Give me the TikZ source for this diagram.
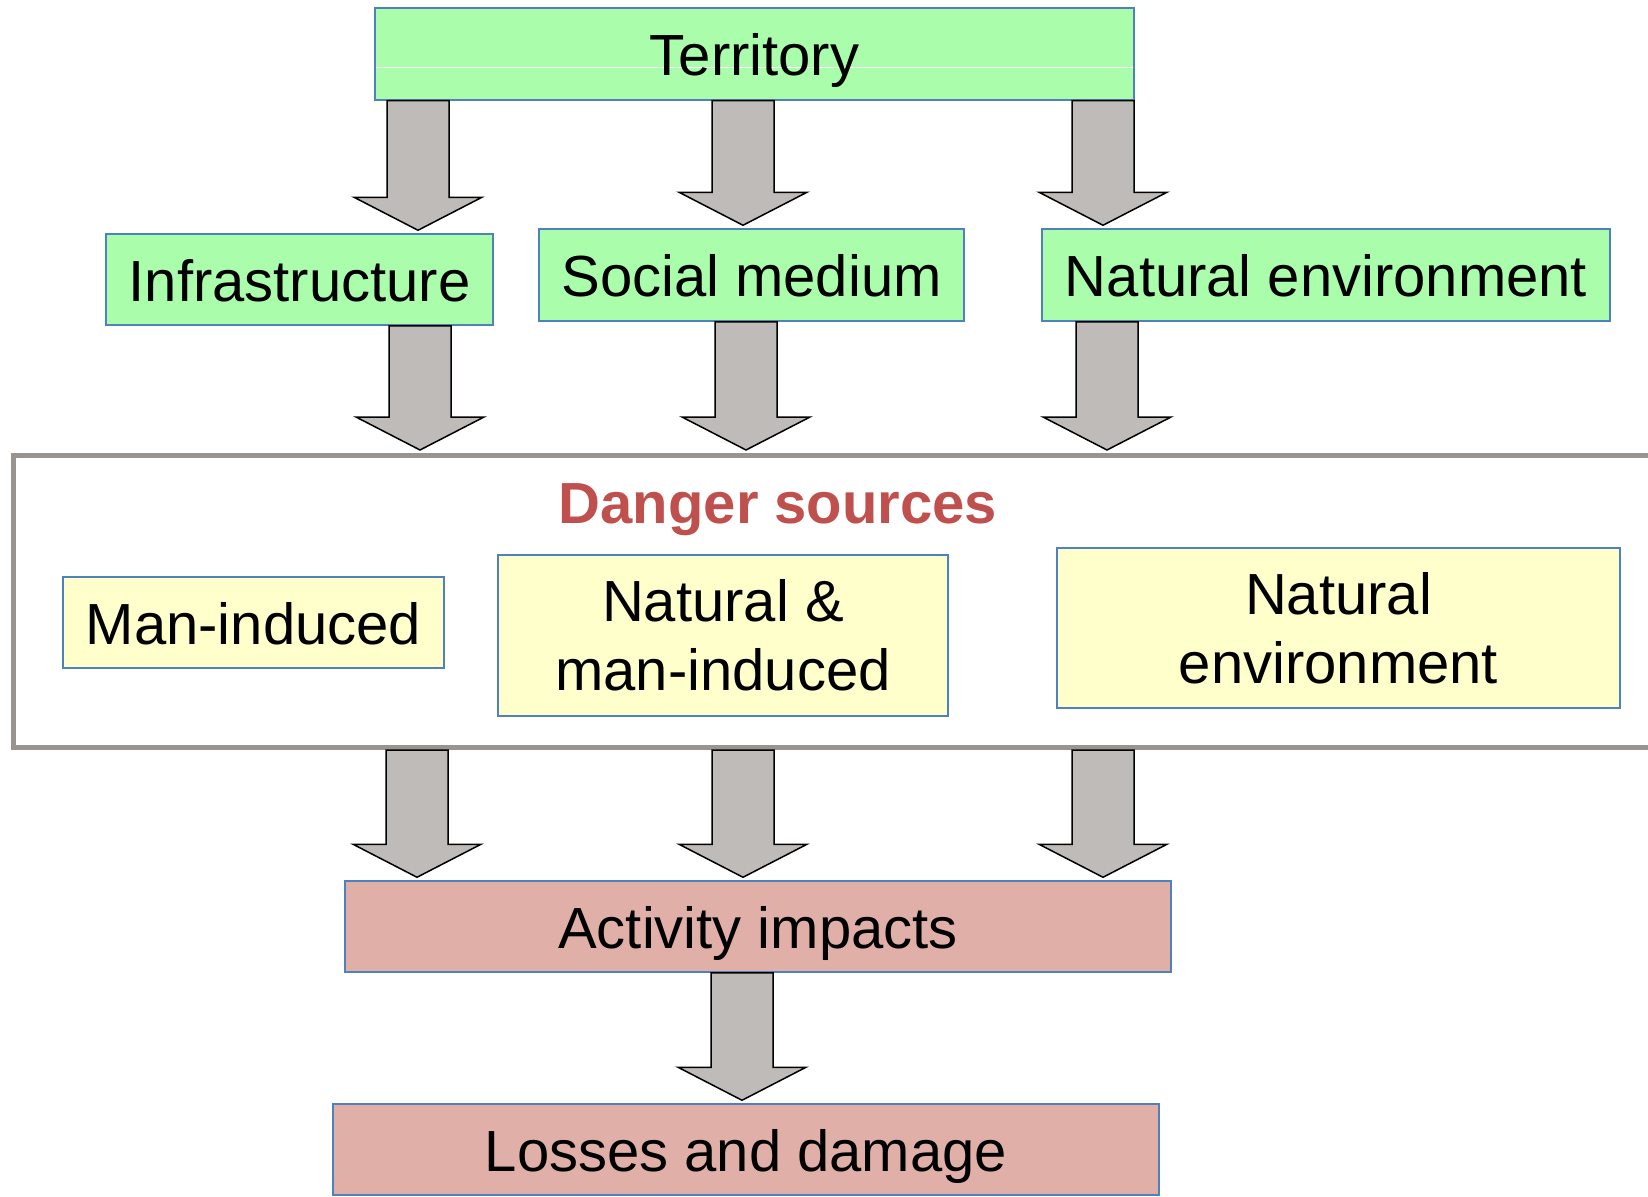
\documentclass[tikz,border=0pt]{standalone}
\usepackage{fontspec}
\setmainfont{Liberation Sans}
\usetikzlibrary{calc}

\definecolor{boxgreen}{RGB}{170,253,170}
\definecolor{boxyellow}{RGB}{255,255,204}
\definecolor{boxpink}{RGB}{224,176,168}
\definecolor{boxblue}{RGB}{79,129,189}
\definecolor{arrowgray}{RGB}{191,187,184}
\definecolor{framegray}{RGB}{152,148,144}
\definecolor{dangerred}{RGB}{192,80,77}

% fat block arrow: x position, start node anchor, end node anchor
\newcommand{\fatarrow}[3]{%
    \draw[fat] let \p1=(#2), \p2=(#3) in
        (#1pt-31pt,\y1) -- (#1pt+31pt,\y1) -- (#1pt+31pt,\y2+36pt) -- (#1pt+64pt,\y2+36pt)
        -- (#1pt,\y2+3pt) -- (#1pt-64pt,\y2+36pt) -- (#1pt-31pt,\y2+36pt) -- cycle;
}

\begin{document}
\begin{tikzpicture}[x=1pt, y=-1pt, font=\fontsize{58}{69}\selectfont,
    box/.style={draw=boxblue, line width=1.5pt, inner sep=0pt, align=center, text height=55pt, text depth=12pt},
    twobox/.style={draw=boxblue, line width=1.5pt, inner sep=0pt, align=center},
    fat/.style={draw=black, fill=arrowgray, line width=1.5pt, line join=miter}]

    \useasboundingbox (0,0) rectangle (1648,1196);

    \node [box, fill=boxgreen, minimum width=759, minimum height=92,
        path picture={\draw [white, line width=1pt] ([yshift=-14pt]path picture bounding box.west) -- ([yshift=-14pt]path picture bounding box.east);}]
        (T) at (754.5,54) {Territory};

    \node [box, fill=boxgreen, minimum width=387, minimum height=91] (I) at (299.5,279.5) {Infrastructure};
    \node [box, fill=boxgreen, minimum width=425, minimum height=92] (S) at (751.5,275) {Social medium};
    \node [box, fill=boxgreen, minimum width=568, minimum height=92] (E) at (1326,275) {Natural environment};

    \node [draw=framegray, line width=5pt, minimum width=1660, minimum height=292, inner sep=0pt] (D) at (843.5,601.5) {};
    \node [text=dangerred, font=\fontsize{58}{69}\selectfont\bfseries] (DS) at (778,510) {Danger sources};

    \node [box, fill=boxyellow, minimum width=381, minimum height=91] (M) at (253.5,622.5) {Man-induced};
    \node [twobox, fill=boxyellow, minimum width=450, minimum height=161] (NM) at (723,635.5) {Natural \&\\man-induced};
    \node [twobox, fill=boxyellow, minimum width=563, minimum height=160] (NE) at (1338.5,628) {Natural\\environment};

    \node [box, fill=boxpink, minimum width=826, minimum height=91] (A) at (758,926.5) {Activity impacts};
    \node [box, fill=boxpink, minimum width=826, minimum height=91] (L) at (746,1149.5) {Losses and damage};

    % Territory to its parts
    \fatarrow{418}{T.south}{I.north}
    \fatarrow{743}{T.south}{S.north}
    \fatarrow{1103}{T.south}{E.north}
    % Parts to danger sources
    \fatarrow{420}{I.south}{D.north}
    \fatarrow{746}{S.south}{D.north}
    \fatarrow{1107}{E.south}{D.north}
    % Danger sources to impacts
    \foreach \ax in {417,743,1103} {
        \fatarrow{\ax}{D.south}{A.north}
    }
    \fatarrow{742}{A.south}{L.north}

\end{tikzpicture}
\end{document}
